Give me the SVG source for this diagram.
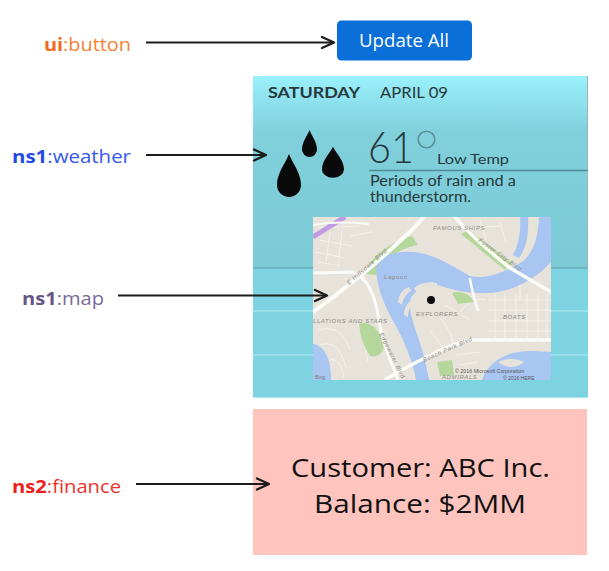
<svg xmlns="http://www.w3.org/2000/svg" width="609" height="571" viewBox="0 0 609 571">
<defs>
<style>
.lbl{font-family:"Open Sans","Liberation Sans",sans-serif;font-size:17.5px}
.b{font-weight:bold}
.wx{font-family:"Lato","Open Sans","Liberation Sans",sans-serif;fill:#26393c}
.mapt{font-family:"Liberation Sans","DejaVu Sans",sans-serif;font-style:italic;fill:#8c8a86;font-size:6px;letter-spacing:0.6px}
.road{fill:none;stroke:#fbfbf8;stroke-linecap:round;stroke-linejoin:round}
.street{fill:none;stroke:#f6f4ef;stroke-width:1;opacity:0.85}
.conn{stroke:#1c1c1c;stroke-width:2;fill:none;marker-end:url(#chev)}
.fin{font-family:"Open Sans","Liberation Sans",sans-serif;font-size:25px;fill:#111}
</style>
<marker id="chev" markerUnits="userSpaceOnUse" viewBox="-15 -8 17 16" markerWidth="17" markerHeight="16" refX="0" refY="0" orient="auto">
<path d="M-12,-5.5 L0,0 L-12,5.5" fill="none" stroke="#1c1c1c" stroke-width="2.4" stroke-linecap="round" stroke-linejoin="round"/>
</marker>
<linearGradient id="cardTop" x1="0" y1="0" x2="0" y2="1">
<stop offset="0" stop-color="#9bf1fb"/>
<stop offset="0.12" stop-color="#8ee3ee"/>
<stop offset="0.3" stop-color="#80d0dc"/>
<stop offset="1" stop-color="#7ccbd7"/>
</linearGradient>
<path id="drop" d="M0,-2.6 C0.3,-1.8 1,-1 1,0 A1,1 0 0 1 -1,0 C-1,-1 -0.3,-1.8 0,-2.6 Z"/>
<clipPath id="mapclip"><rect x="313" y="217" width="238" height="163"/></clipPath>
</defs>

<rect x="0" y="0" width="609" height="571" fill="#ffffff"/>

<!-- Labels -->
<g id="label-ui-button">
<text class="lbl" x="44" y="51" textLength="87" lengthAdjust="spacingAndGlyphs" fill="#f58236"><tspan class="b" fill="#f26a22">ui</tspan>:button</text>
</g>
<g id="label-ns1-weather">
<text class="lbl" x="12" y="163" textLength="119" lengthAdjust="spacingAndGlyphs" fill="#3558f2"><tspan class="b" fill="#2448e6">ns1</tspan>:weather</text>
</g>
<g id="label-ns1-map">
<text class="lbl" x="22" y="305" textLength="82" lengthAdjust="spacingAndGlyphs" fill="#7a6a9a"><tspan class="b" fill="#665587">ns1</tspan>:map</text>
</g>
<g id="label-ns2-finance">
<text class="lbl" x="12" y="492.5" textLength="109" lengthAdjust="spacingAndGlyphs" fill="#f2302c"><tspan class="b" fill="#ee2020">ns2</tspan>:finance</text>
</g>

<!-- Button node -->
<g id="node-update-all">
<rect x="337" y="20.5" width="135" height="40" rx="4.5" fill="#0a6fd8"/>
<text x="359" y="46.7" textLength="90" lengthAdjust="spacingAndGlyphs" font-family="'Open Sans','Liberation Sans',sans-serif" font-size="17.5" fill="#ffffff">Update All</text>
</g>

<!-- Weather + map panel -->
<g id="node-weather">
<rect x="253" y="76" width="335" height="322" fill="#7dd3df"/>
<rect x="253" y="76" width="335" height="192" fill="url(#cardTop)"/>
<line x1="253" y1="268" x2="588" y2="268" stroke="#5b9ea8" stroke-width="1"/>
<line x1="587.5" y1="76" x2="587.5" y2="268" stroke="#9cb4b8" stroke-width="1"/>
<line x1="253" y1="311" x2="588" y2="311" stroke="#b4f0f6" stroke-width="1.2"/>
<line x1="253" y1="355" x2="588" y2="355" stroke="#b4f0f6" stroke-width="1.2"/>
<line x1="253" y1="397.5" x2="588" y2="397.5" stroke="#a8e8f0" stroke-width="1"/>
<text class="wx" x="268" y="98" font-size="15" font-weight="bold" textLength="92" lengthAdjust="spacingAndGlyphs" fill="#1b2729">SATURDAY</text>
<text class="wx" x="380" y="98" font-size="15" textLength="68" lengthAdjust="spacingAndGlyphs">APRIL 09</text>
<use href="#drop" transform="translate(289,185) scale(12,11.9)" fill="#0a0a0a"/>
<use href="#drop" transform="translate(309.5,149.5) scale(7.5,7.5)" fill="#0a0a0a"/>
<use href="#drop" transform="translate(333,169.2) scale(11,8.6)" fill="#0a0a0a"/>
<text class="wx" x="368" y="163" font-size="43" font-weight="300" textLength="46" lengthAdjust="spacingAndGlyphs" fill="#5b8f96">61</text>
<circle cx="426.5" cy="139.5" r="8.3" fill="none" stroke="#5b8f96" stroke-width="1.6"/>
<text class="wx" x="437" y="164" font-size="13.5" textLength="72" lengthAdjust="spacingAndGlyphs">Low Temp</text>
<line x1="369" y1="170.5" x2="588" y2="170.5" stroke="#4f8d96" stroke-width="1.5"/>
<text class="wx" x="370" y="185.5" font-size="14.5" textLength="146" lengthAdjust="spacingAndGlyphs">Periods of rain and a</text>
<text class="wx" x="370" y="202" font-size="14.5" textLength="101" lengthAdjust="spacingAndGlyphs">thunderstorm.</text>
</g>

<!-- Map node -->
<g id="node-map">
<g clip-path="url(#mapclip)">
<rect x="313" y="217" width="238" height="163" fill="#e7e3db"/>
<!-- residential streets -->
<path class="street" d="M318,228 L360,226 M320,240 L352,246 M316,252 L345,258 M330,232 L326,262 M342,230 L338,268 M318,262 L340,266 M350,236 L372,232"/>
<path class="street" d="M488,300 L551,300 M488,310 L551,310 M488,321 L551,321 M488,331 L551,331 M495,294 L495,338 M505,294 L505,338 M516,294 L516,338 M527,294 L527,338 M538,294 L538,338 M547,294 L547,338"/>
<path class="street" d="M318,330 C335,325 345,335 350,350 M320,345 C335,340 342,352 346,368 M330,360 C338,358 342,368 344,378 M355,320 C362,330 365,345 368,362"/>
<path class="street" d="M440,318 C450,330 455,340 452,352 M445,305 L470,320 M460,312 C470,300 478,298 486,300 M430,330 L445,350 M455,355 L480,352 M460,365 L478,362"/>
<path class="street" d="M470,228 L500,226 M480,219 L486,240 M500,222 L506,242 M520,300 L520,280"/>
<!-- green areas -->
<path d="M363,274 C372,256 390,242 412,236 L418,245 C398,249 386,258 376,275 Z" fill="#b5d79c"/>
<path d="M461,234 L469,230 L512,263 L505,270 Z" fill="#b5d79c"/>
<path d="M452,293 C460,290 470,294 474,302 L458,304 Z" fill="#b5d79c"/>
<path d="M359,324 C368,320 380,328 384,345 C384,352 378,358 370,356 C364,348 360,336 359,324 Z" fill="#b5d79c"/>
<path d="M437,362 L452,360 L454,375 L440,376 Z" fill="#b5d79c"/>
<path d="M403,240 L410,238 L412,246 L405,247 Z" fill="#b5d79c"/>
<!-- water -->
<path d="M376,268 C379,255 398,249 420,253 C440,257 455,268 470,276 C485,280 505,272 522,262 C534,252 538,238 539,217 L551,217 L551,262 C540,275 520,288 498,292 C486,294 476,293 466,292 C452,290 442,286 434,284 C424,284 416,290 411,298 C408,306 412,320 419,340 C424,356 427,368 429,380 L416,380 C413,362 405,343 396,326 C387,310 377,292 376,268 Z" fill="#a9c5f1"/>
<path d="M520,217 L528,217 C529,235 526,249 519,258 L513,255 C519,244 521,230 520,217 Z" fill="#a9c5f1"/>
<path d="M482,380 C486,366 500,355 518,352 C533,350 544,352 551,352 L551,380 Z" fill="#a9c5f1"/>
<path d="M313,344 C323,345 331,356 331,380 L313,380 Z" fill="#a9c5f1"/>
<!-- islands in lagoon -->
<path d="M414,288 C420,283 428,281 437,283 L437,287 C429,286 422,289 417,293 Z" fill="#e7e3db"/>
<path d="M398,302 C399,294 403,289 409,287 L411,291 C406,294 403,298 402,305 Z" fill="#e7e3db"/>
<path d="M404,315 C404,308 407,303 411,301 L412,306 C409,308 408,312 408,317 Z" fill="#e7e3db"/>
<path d="M498,362 C506,358 516,358 524,362 C518,368 506,369 498,362 Z" fill="#e7e3db"/>
<!-- roads -->
<path d="M313,237 L345,217" fill="none" stroke="#c29be6" stroke-width="5"/>
<path class="road" stroke-width="4" d="M313,312 C330,300 345,288 360,276 C380,260 398,243 412,230 L424,217"/>
<path class="road" stroke-width="3" d="M313,273 L352,272 C365,276 372,290 376,305 C379,318 380,330 383,340 C388,355 394,368 398,380"/>
<path class="road" stroke-width="3.5" d="M386,379 C398,372 410,365 425,358 C440,350 455,343 470,340 L551,340"/>
<path class="road" stroke-width="3.5" d="M455,217 C470,235 490,252 510,268 L551,292"/>
<path class="road" stroke-width="2.5" d="M470,279 C472,290 474,300 478,310"/>
<path class="road" stroke-width="2" d="M313,225 C330,222 350,222 368,224"/>
<!-- map labels -->
<text class="mapt" x="433" y="230">FAMOUS SHIPS</text>
<text class="mapt" x="384" y="279" font-size="7" fill="#5d7aa6" letter-spacing="0">Lagoon</text>
<text class="mapt" x="416" y="316">EXPLORERS</text>
<text class="mapt" x="503" y="319">BOATS</text>
<text class="mapt" x="313" y="323">LLATIONS AND STARS</text>
<text class="mapt" font-size="5.5" letter-spacing="0" transform="translate(349,285) rotate(-41)">E Hillsdale Blvd</text>
<text class="mapt" font-size="5.5" letter-spacing="0" transform="translate(478,241) rotate(36)">Foster City Blvd</text>
<text class="mapt" font-size="5.5" letter-spacing="0" transform="translate(379,334) rotate(63)">Edgewater Blvd</text>
<text class="mapt" font-size="6" letter-spacing="0" transform="translate(424,362) rotate(-24)">Beach Park Blvd</text>
<text class="mapt" x="442" y="379" font-size="5">ADMIRALS</text>
<text x="455" y="373" font-family="'Liberation Sans',sans-serif" font-size="5.3" fill="#555">© 2016 Microsoft Corporation</text>
<text x="503" y="379.5" font-family="'Liberation Sans',sans-serif" font-size="5" fill="#555">© 2016 HERE</text>
<text x="315" y="379" font-family="'Liberation Sans',sans-serif" font-size="5" fill="#777">Bing</text>
<circle cx="431" cy="300" r="4" fill="#0a0a0a"/>
</g>
</g>

<!-- Finance node -->
<g id="node-finance">
<rect x="253" y="409" width="334" height="146" fill="#fec4bd"/>
<text class="fin" x="291" y="477" textLength="259" lengthAdjust="spacingAndGlyphs">Customer: ABC Inc.</text>
<text class="fin" x="314" y="513" textLength="212" lengthAdjust="spacingAndGlyphs">Balance: $2MM</text>
</g>

<!-- Connectors -->
<g id="connectors">
<line class="conn" x1="146" y1="42.5" x2="334" y2="42.5"/>
<line class="conn" x1="146" y1="155" x2="266" y2="155"/>
<line class="conn" x1="118" y1="295.5" x2="327" y2="295.5"/>
<line class="conn" x1="136" y1="484" x2="269" y2="484"/>
</g>
</svg>
